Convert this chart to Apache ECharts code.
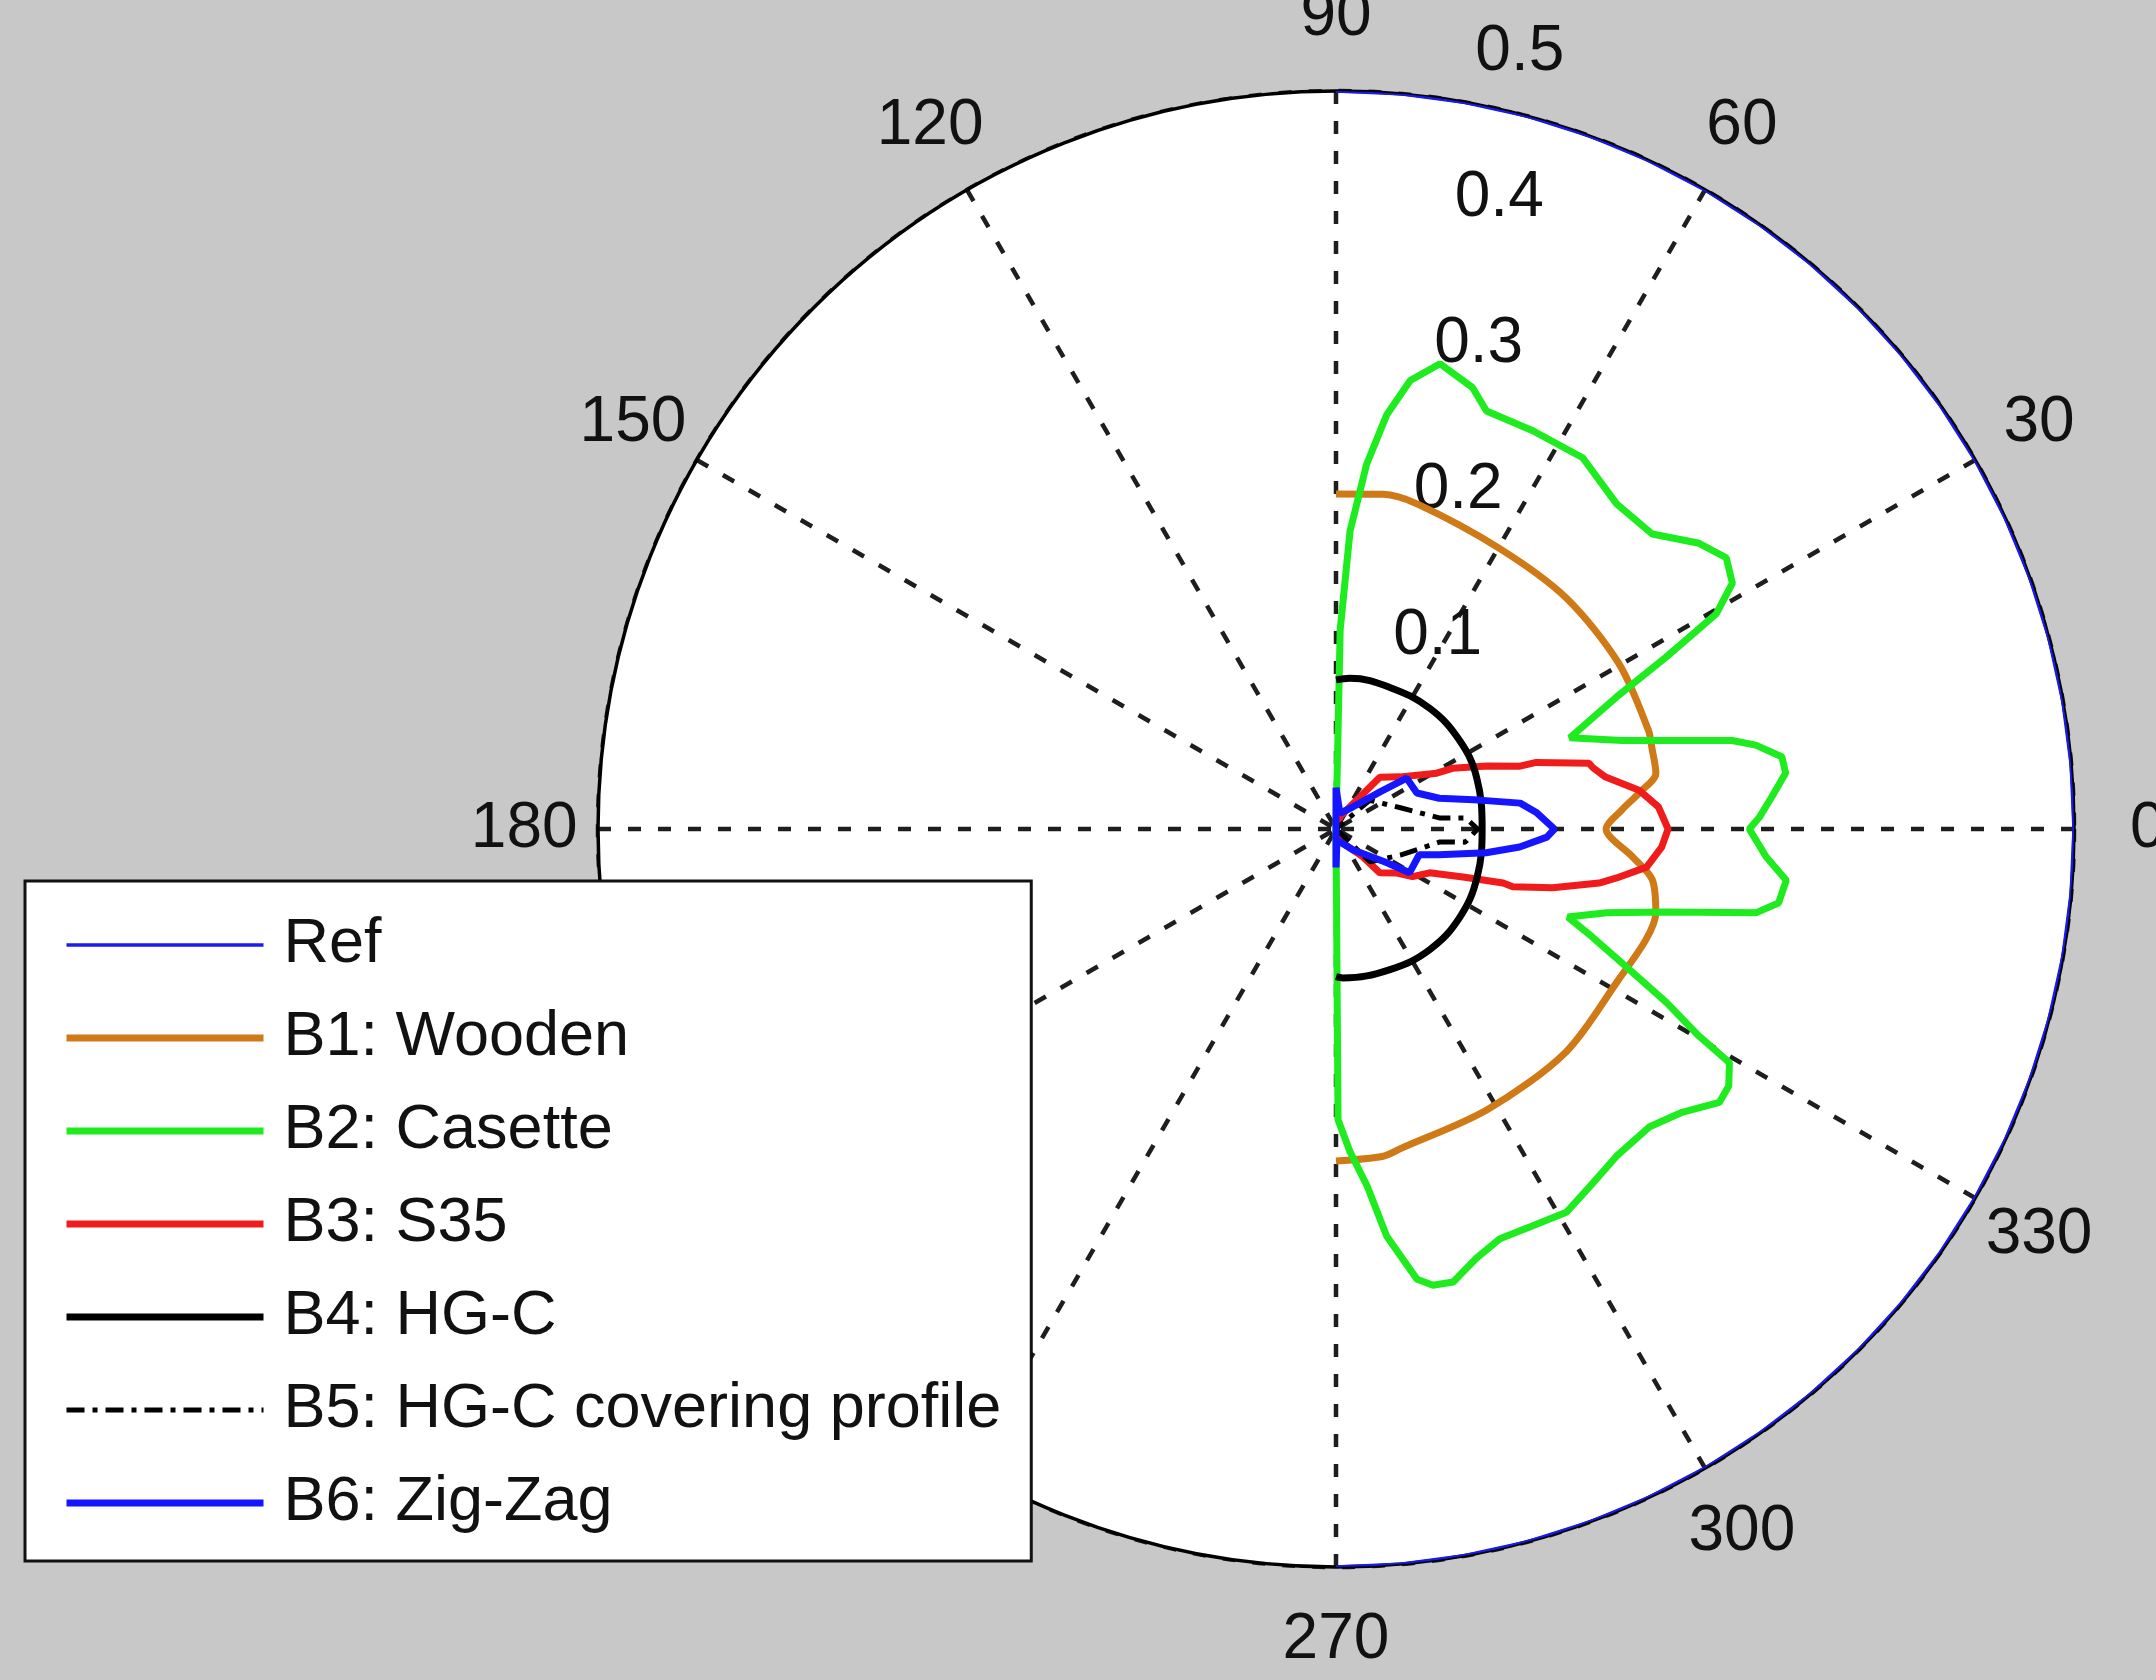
<!DOCTYPE html>
<html>
<head>
<meta charset="utf-8">
<title>Polar response</title>
<script src="https://cdn.jsdelivr.net/npm/echarts@6/dist/echarts.min.js"></script>
<style>
  html, body { margin: 0; padding: 0; background: #c8c8c8; }
  #main { width: 2156px; height: 1680px; }
</style>
</head>
<body>
<div id="main"></div>
<script>
// Polar tick values
const thetaTicks = [0, 30, 60, 90, 120, 150, 180, 210, 240, 270, 300, 330];
const rhoTicks = [0.1, 0.2, 0.3, 0.4, 0.5];

// Each series is a list of [rho, theta(deg)] points, ordered from -90 to 90
const refCurve = [
  [0.5, -90], [0.5, -85], [0.5, -80], [0.5, -75], [0.5, -70], [0.5, -65], [0.5, -60],
  [0.5, -55], [0.5, -50], [0.5, -45], [0.5, -40], [0.5, -35], [0.5, -30], [0.5, -25],
  [0.5, -20], [0.5, -15], [0.5, -10], [0.5, -5], [0.5, 0], [0.5, 5], [0.5, 10],
  [0.5, 15], [0.5, 20], [0.5, 25], [0.5, 30], [0.5, 35], [0.5, 40], [0.5, 45],
  [0.5, 50], [0.5, 55], [0.5, 60], [0.5, 65], [0.5, 70], [0.5, 75], [0.5, 80],
  [0.5, 85], [0.5, 90]
];

const wooden = [
  [0.225, -90], [0.224, -81.8], [0.221, -78.7], [0.216, -61.7], [0.217, -44.1],
  [0.217, -28.0], [0.223, -19.6], [0.224, -14.7], [0.217, -9.1], [0.202, -5.4],
  [0.183, 0], [0.194, 3.8], [0.207, 6.8], [0.220, 9.9], [0.221, 14.5],
  [0.222, 17.5], [0.222, 30.3], [0.221, 45.1], [0.220, 59.8], [0.227, 76.0],
  [0.229, 82.0], [0.227, 90]
];

const casette = [
  [0, -90], [0.197, -89.6], [0.219, -87.5], [0.243, -85.0], [0.278, -82.9],
  [0.310, -79.8], [0.316, -78.0], [0.317, -75.5], [0.306, -71.9], [0.299, -68.2],
  [0.300, -63.7], [0.303, -59.0], [0.297, -54.6], [0.292, -49.4], [0.293, -43.5],
  [0.303, -39.3], [0.319, -35.5], [0.318, -33.2], [0.310, -30.7], [0.283, -29.7],
  [0.253, -27.7], [0.218, -25.4], [0.188, -22.8], [0.168, -20.8], [0.192, -17.2],
  [0.231, -14.1], [0.290, -11.3], [0.304, -9.5], [0.307, -6.5], [0.292, -3.7],
  [0.280, 0], [0.287, 1.6], [0.296, 4.2], [0.307, 7.1], [0.306, 9.2],
  [0.290, 11.3], [0.275, 12.6], [0.203, 17.2], [0.170, 21.3], [0.210, 25.2],
  [0.252, 27.5], [0.296, 29.5], [0.316, 31.8], [0.322, 34.8], [0.313, 38.2],
  [0.293, 43.0], [0.291, 49.2], [0.302, 56.4], [0.301, 63.7], [0.301, 70.2],
  [0.313, 72.8], [0.323, 77.4], [0.308, 80.6], [0.283, 83.0], [0.248, 85.2],
  [0.202, 87.3], [0.135, 88.8], [0, 90]
];

const s35 = [
  [0, -90], [0.011, -63], [0.026, -46], [0.042, -45], [0.051, -35.8],
  [0.061, -31.9], [0.070, -25.1], [0.092, -20.7], [0.119, -17.9], [0.126, -18.1],
  [0.152, -15.2], [0.182, -11.6], [0.193, -9.9], [0.212, -7.0], [0.221, -3.2],
  [0.225, 0], [0.219, 3.9], [0.207, 7.3], [0.186, 10.9], [0.179, 13.4],
  [0.177, 14.6], [0.143, 18.4], [0.131, 18.9], [0.111, 22.6], [0.089, 27.5],
  [0.078, 29.0], [0.056, 39.1], [0.046, 49.8], [0.009, 71.6], [0, 90]
];

const hgc = [
  [0.100, -90], [0.101, -87.3], [0.102, -69], [0.1035, -52.2], [0.103, -35.4],
  [0.101, -18.8], [0.099, 0], [0.1015, 20.2], [0.103, 35.7], [0.1035, 52.2],
  [0.1026, 69.2], [0.1025, 84.7], [0.101, 90]
];

const hgcCovering = [
  [0, -90], [0.032, -44], [0.047, -22.1], [0.071, -7.1], [0.088, -5.8],
  [0.096, 0], [0.088, 4.9], [0.071, 6.0], [0.046, 18.2], [0.030, 40.5], [0, 90]
];

const zigZag = [
  [0, -90], [0.026, -90], [0.0075, -85], [0.018, -51], [0.041, -33.7],
  [0.058, -30.7], [0.059, -17.2], [0.072, -14.0], [0.103, -9.0], [0.125, -5.6],
  [0.143, -2.2], [0.148, 0], [0.136, 4.8], [0.126, 8.0], [0.099, 11.4],
  [0.073, 16.6], [0.060, 24], [0.059, 35.7], [0.039, 40.1], [0.019, 52.3],
  [0.011, 76], [0.028, 90], [0, 90]
];

const seriesNames = ['Ref', 'B1: Wooden', 'B2: Casette', 'B3: S35', 'B4: HG-C',
  'B5: HG-C covering profile', 'B6: Zig-Zag'];

const FONT = '"Liberation Sans", Arial, Helvetica, sans-serif';
const TEXT_COLOR = '#111111';
const GRID_COLOR = '#1e1e1e';
const GRID_DASH = [13, 17];

function lineSeries(name, data, color, width, extra) {
  return Object.assign({
    name: name,
    type: 'line',
    coordinateSystem: 'polar',
    data: data,
    symbol: 'none',
    showSymbol: false,
    silent: true,
    clip: false,
    lineStyle: { color: color, width: width },
    itemStyle: { color: color }
  }, extra || {});
}

const chart = echarts.init(document.getElementById('main'), null, { renderer: 'canvas' });

const option = {
  animation: false,
  backgroundColor: '#c8c8c8',
  polar: { center: [1336, 829], radius: 738 },
  angleAxis: {
    type: 'value',
    min: 0,
    max: 360,
    interval: 30,
    startAngle: 0,
    clockwise: false,
    axisLine: { show: true, lineStyle: { color: '#000', width: 3.5 } },
    axisTick: { show: false },
    axisLabel: { show: false },
    splitLine: { show: true, lineStyle: { color: GRID_COLOR, width: 4.5, type: GRID_DASH } }
  },
  radiusAxis: {
    type: 'value',
    min: 0,
    max: 0.5,
    interval: 0.1,
    axisLine: { show: false },
    axisTick: { show: false },
    axisLabel: { show: false },
    splitLine: { show: true, lineStyle: { color: GRID_COLOR, width: 4.5, type: GRID_DASH } },
    splitArea: { show: true, areaStyle: { color: ['#ffffff'] } }
  },
  legend: {
    orient: 'vertical',
    left: 25,
    top: 881,
    data: seriesNames,
    selectedMode: false,
    backgroundColor: '#ffffff',
    borderColor: '#111',
    borderWidth: 3,
    borderRadius: 0,
    padding: [32, 30, 26, 38],
    itemWidth: 197,
    itemHeight: 14,
    itemGap: 29,
    itemStyle: { opacity: 0 },
    lineStyle: { width: 'inherit' },
    textStyle: {
      fontSize: 63,
      lineHeight: 64,
      fontFamily: FONT,
      color: TEXT_COLOR,
      padding: [0, 0, 0, 15]
    }
  },
  series: [
    lineSeries(seriesNames[0], refCurve, '#1a1aee', 3.5),
    lineSeries(seriesNames[1], wooden, '#cf7a17', 7, { smooth: 0.3 }),
    lineSeries(seriesNames[2], casette, '#1eec1e', 7),
    lineSeries(seriesNames[3], s35, '#f01c1c', 7),
    lineSeries(seriesNames[4], hgc, '#000000', 7, { smooth: 0.4 }),
    lineSeries(seriesNames[5], hgcCovering, '#000000', 5, {
      lineStyle: { color: '#000000', width: 5, type: [18, 8, 5, 8] }
    }),
    lineSeries(seriesNames[6], zigZag, '#1515ff', 7)
  ]
};

chart.setOption(option);

// Tick labels placed through the polar coordinate system; they sit under the legend box
const labelFont = { fontSize: 64, fontFamily: FONT, fill: TEXT_COLOR };
const graphics = [];
thetaTicks.forEach(function (a) {
  const p = chart.convertToPixel({ polarIndex: 0 }, [0.55, a]);
  graphics.push({
    type: 'text', x: p[0], y: p[1], silent: true, z: 1,
    style: Object.assign({ text: String(a), align: 'center', verticalAlign: 'middle' }, labelFont)
  });
});
rhoTicks.forEach(function (v) {
  const p = chart.convertToPixel({ polarIndex: 0 }, [v + 0.005, 82]);
  graphics.push({
    type: 'text', x: p[0], y: p[1] - 7, silent: true, z: 1,
    style: Object.assign({ text: '  ' + v.toFixed(1), align: 'left', verticalAlign: 'bottom' }, labelFont)
  });
});
chart.setOption({ graphic: { elements: graphics, z: 1 } });
</script>
</body>
</html>
